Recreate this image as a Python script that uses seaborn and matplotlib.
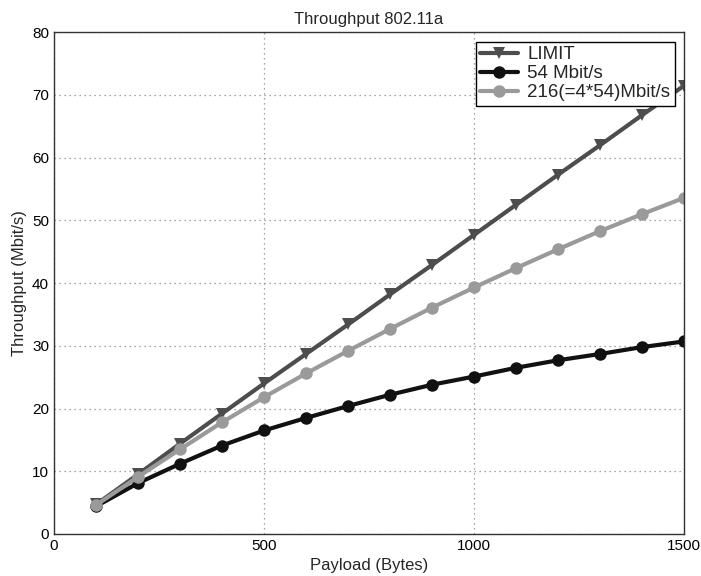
import numpy as np
import pandas as pd
import seaborn as sns
import matplotlib.pyplot as plt

payload = [100, 200, 300, 400, 500, 600, 700, 800, 900, 1000, 1100, 1200, 1300, 1400, 1500]
limit = [4.7, 9.5, 14.4, 19.2, 24.0, 28.7, 33.4, 38.2, 42.9, 47.7, 52.5, 57.3, 62.0, 66.8, 71.5]
rate_54 = [4.4, 8.1, 11.2, 14.1, 16.5, 18.5, 20.4, 22.2, 23.8, 25.1, 26.5, 27.7, 28.7, 29.8, 30.7]
rate_216 = [4.6, 9.1, 13.5, 17.8, 21.8, 25.6, 29.2, 32.7, 36.1, 39.3, 42.4, 45.4, 48.3, 51.0, 53.6]
series_names = ["LIMIT", "54 Mbit/s", "216(=4*54)Mbit/s"]

df = pd.concat([
    pd.DataFrame({"payload": payload, "throughput": limit, "serie": series_names[0]}),
    pd.DataFrame({"payload": payload, "throughput": rate_54, "serie": series_names[1]}),
    pd.DataFrame({"payload": payload, "throughput": rate_216, "serie": series_names[2]}),
])

sns.set_style("white")
plt.rcParams["font.family"] = ["Liberation Sans", "DejaVu Sans"]

fig = plt.figure(figsize=(7.01, 5.76), dpi=100)
ax = fig.add_axes([0.077, 0.073, 0.899, 0.871])

colores = {series_names[0]: "#4d4d4d", series_names[1]: "#111111", series_names[2]: "#9a9a9a"}
marcadores = {series_names[0]: "v", series_names[1]: "o", series_names[2]: "o"}

sns.lineplot(data=df, x="payload", y="throughput", hue="serie", style="serie",
             palette=colores, markers=marcadores, dashes=False, linewidth=3,
             markersize=9, markeredgewidth=0, ax=ax)

ax.set_xlim(0, 1500)
ax.set_ylim(0, 80)
ax.set_xticks([0, 500, 1000, 1500])
ax.set_yticks(np.arange(0, 81, 10))
ax.grid(True, linestyle=(0, (1, 3)), color="#888888", linewidth=0.9)
ax.tick_params(direction="in", length=4, labelsize=11, colors="black")
for s in ax.spines.values():
    s.set_color("#333333")
    s.set_linewidth(1)

ax.set_title("Throughput 802.11a", fontsize=12)
ax.set_xlabel("Payload (Bytes)", fontsize=12)
ax.set_ylabel("Throughput (Mbit/s)", fontsize=12)

leg = ax.legend(loc="upper right", fontsize=13.5, fancybox=False, framealpha=1,
                edgecolor="black", borderpad=0.25, labelspacing=0.1, handlelength=2.0,
                handletextpad=0.5, borderaxespad=0.5)
leg.set_title(None)

plt.savefig("out.png", dpi=100)
plt.close()
